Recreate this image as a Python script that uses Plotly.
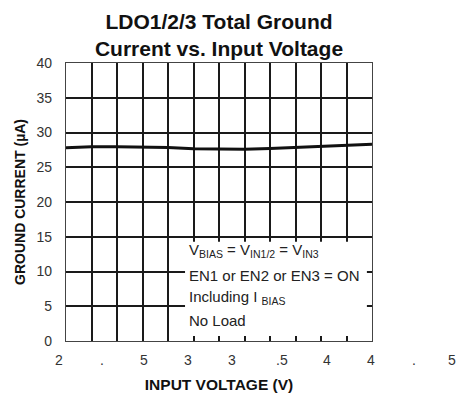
import plotly.graph_objects as go

# data
input_voltage = [2.0, 2.25, 2.5, 2.75, 3.0, 3.25, 3.5, 3.75, 4.0, 4.25, 4.5, 4.75, 5.0]
ground_current = [27.8, 27.95, 27.95, 27.9, 27.85, 27.65, 27.6, 27.6, 27.7, 27.85, 28.05, 28.1, 28.3]

# x tick labels as printed in the reference (garbled) and their positions (V)
x_tick_labels = ["2", ".", "5", "3", "3", ".5", "4", "4", ".", "5"]
x_tick_pos = [1.93, 2.35, 2.76, 3.20, 3.63, 4.12, 4.56, 4.99, 5.41, 5.78]

y_ticks = [0, 5, 10, 15, 20, 25, 30, 35, 40]

legend_lines = [
    ("V<sub>BIAS</sub> = V<sub>IN1/2</sub> = V<sub>IN3</sub>", 250),
    ("EN1 or EN2 or EN3 = ON", 275),
    ("Including I <sub>BIAS</sub>", 297.5),
    ("No Load", 320),
]

OFF = 8  # page body margin
W, H = 465 - 2 * OFF, 401 - 2 * OFF
L, T = 66 - OFF, 63 - OFF
R = W - (372 - OFF)
B = H - (341 - OFF)
ph = H - T - B
X0, X1 = 2.0, 5.0


def py_to_paper(py):
    return (H - B - (py - OFF)) / ph


font = "Liberation Sans, Arial"

fig = go.Figure()
fig.add_trace(go.Scatter(
    x=input_voltage, y=ground_current, mode="lines",
    line=dict(color="#111111", width=3), showlegend=False,
))

# white box hiding gridlines behind the condition text
fig.add_shape(type="rect", xref="x", yref="y",
              x0=3.0 + 0.167, x1=X1 - 0.05, y0=0.72, y1=15 - 0.72,
              fillcolor="white", line=dict(width=0), layer="above")

for txt, py in legend_lines:
    fig.add_annotation(x=3.0 + 0.19, xref="x", xanchor="left",
                       y=py_to_paper(py), yref="paper", yanchor="middle",
                       text=txt, showarrow=False,
                       font=dict(family=font, size=15, color="#222222"))

for lab, xv in zip(x_tick_labels, x_tick_pos):
    fig.add_annotation(x=(xv - X0) / (X1 - X0), xref="paper", xanchor="center",
                       y=py_to_paper(360), yref="paper", yanchor="middle",
                       text=lab, showarrow=False,
                       font=dict(family=font, size=14, color="#333333"))

fig.update_layout(
    width=W, height=H,
    margin=dict(l=L, r=R, t=T, b=B, autoexpand=False),
    paper_bgcolor="white", plot_bgcolor="white",
    title=dict(text="<b>LDO1/2/3 Total Ground<br>Current vs. Input Voltage</b>",
               x=0.5, xref="paper", xanchor="center",
               y=1 - 20.5 / H, yref="container", yanchor="top",
               font=dict(family=font, size=21, color="#111111")),
    xaxis=dict(range=[X0, X1], dtick=0.25, tick0=X0, showticklabels=False,
               showgrid=True, gridcolor="#1a1a1a", gridwidth=1.5,
               showline=True, mirror=True, linecolor="#444444", linewidth=1.4,
               zeroline=False, ticks="",
               title=dict(text="<b>INPUT VOLTAGE (V)</b>", standoff=44,
                          font=dict(family=font, size=15.5, color="#111111"))),
    yaxis=dict(range=[0, 40], tickvals=y_ticks, ticktext=[str(v) for v in y_ticks],
               showgrid=True, gridcolor="#1a1a1a", gridwidth=1.5,
               showline=True, mirror=True, linecolor="#444444", linewidth=1.4,
               zeroline=False, ticks="", ticklabelstandoff=10,
               tickfont=dict(family=font, size=14, color="#333333"),
               title=dict(text="<b>GROUND CURRENT (µA)</b>", standoff=7,
                          font=dict(family=font, size=14, color="#111111"))),
)

fig.write_html("out.html")
